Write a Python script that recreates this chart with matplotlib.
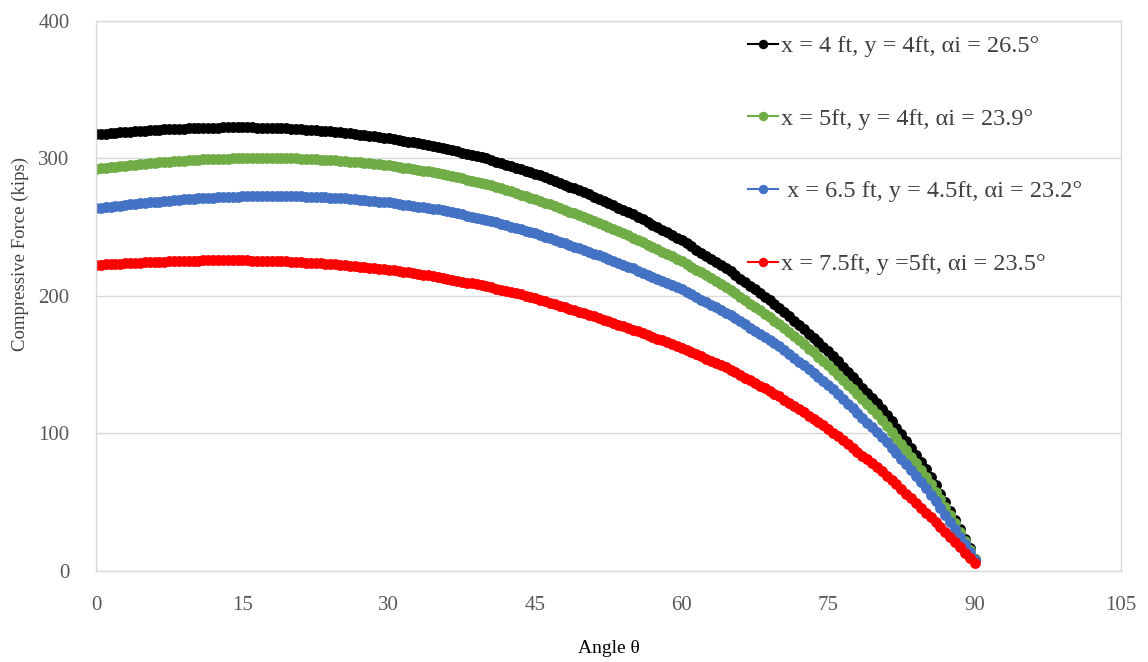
import numpy as np
import matplotlib
matplotlib.use("Agg")
import matplotlib.pyplot as plt

plt.rcParams['font.family'] = ['Liberation Serif', 'DejaVu Serif']

# angle theta, 0 to 90 deg in 0.5 deg steps
theta = np.arange(0, 90.5, 0.5)

# compressive force (kips), one row per 5 degrees
f_black = [
    317.5, 317.8, 318.1, 318.3, 318.6, 318.9, 319.2, 319.5, 319.7, 320.0,
    320.3, 320.5, 320.7, 320.9, 321.1, 321.3, 321.4, 321.6, 321.8, 322.0,
    322.2, 322.3, 322.3, 322.4, 322.4, 322.5, 322.6, 322.6, 322.7, 322.7,
    322.8, 322.7, 322.6, 322.5, 322.4, 322.3, 322.2, 322.1, 322.0, 321.9,
    321.8, 321.5, 321.3, 321.0, 320.8, 320.5, 320.2, 320.0, 319.7, 319.5,
    319.2, 318.8, 318.3, 317.9, 317.4, 317.0, 316.6, 316.1, 315.7, 315.2,
    314.8, 314.2, 313.5, 312.9, 312.3, 311.7, 311.0, 310.4, 309.8, 309.1,
    308.5, 307.7, 306.8, 306.0, 305.1, 304.3, 303.4, 302.6, 301.7, 300.9,
    300.0, 298.9, 297.8, 296.7, 295.6, 294.5, 293.4, 292.3, 291.2, 290.1,
    289.0, 287.7, 286.3, 285.0, 283.6, 282.3, 280.9, 279.6, 278.2, 276.9,
    275.5, 273.9, 272.3, 270.7, 269.1, 267.5, 265.9, 264.3, 262.7, 261.1,
    259.5, 257.6, 255.7, 253.8, 251.9, 250.0, 248.1, 246.2, 244.3, 242.4,
    240.5, 238.3, 236.0, 233.8, 231.5, 229.3, 227.0, 224.8, 222.5, 220.3,
    218.0, 215.4, 212.7, 210.1, 207.4, 204.8, 202.1, 199.5, 196.8, 194.2,
    191.5, 188.4, 185.2, 182.1, 178.9, 175.8, 172.6, 169.5, 166.3, 163.2,
    160.0, 156.2, 152.4, 148.6, 144.8, 141.0, 137.2, 133.4, 129.6, 125.8,
    122.0, 117.7, 113.3, 108.8, 104.2, 99.5, 94.7, 89.7, 84.6, 79.4,
    74.0, 68.2, 62.3, 56.2, 50.0, 43.6, 37.1, 30.4, 23.5, 16.4,
    9.0,
]

f_green = [
    292.5, 292.9, 293.3, 293.6, 294.0, 294.4, 294.8, 295.2, 295.5, 295.9,
    296.3, 296.6, 296.8, 297.1, 297.4, 297.7, 297.9, 298.2, 298.5, 298.7,
    299.0, 299.1, 299.3, 299.4, 299.5, 299.7, 299.8, 299.9, 300.0, 300.2,
    300.3, 300.4, 300.4, 300.5, 300.5, 300.5, 300.5, 300.5, 300.4, 300.4,
    300.3, 300.1, 299.9, 299.8, 299.6, 299.4, 299.2, 299.0, 298.9, 298.7,
    298.5, 298.2, 297.8, 297.5, 297.1, 296.8, 296.4, 296.1, 295.7, 295.4,
    295.0, 294.5, 293.9, 293.4, 292.8, 292.3, 291.7, 291.2, 290.6, 290.1,
    289.5, 288.7, 287.9, 287.1, 286.3, 285.5, 284.7, 283.9, 283.1, 282.3,
    281.5, 280.4, 279.3, 278.2, 277.1, 276.0, 274.9, 273.8, 272.7, 271.6,
    270.5, 269.2, 267.9, 266.6, 265.3, 264.0, 262.7, 261.4, 260.1, 258.8,
    257.5, 256.0, 254.5, 253.0, 251.5, 250.0, 248.5, 247.0, 245.5, 244.0,
    242.5, 240.8, 239.1, 237.4, 235.7, 234.0, 232.3, 230.6, 228.9, 227.2,
    225.5, 223.4, 221.3, 219.2, 217.1, 215.0, 212.9, 210.8, 208.7, 206.6,
    204.5, 202.0, 199.5, 197.0, 194.5, 192.0, 189.5, 187.0, 184.5, 182.0,
    179.5, 176.6, 173.6, 170.7, 167.7, 164.8, 161.8, 158.9, 155.9, 153.0,
    150.0, 146.4, 142.8, 139.2, 135.6, 132.0, 128.4, 124.8, 121.2, 117.6,
    114.0, 109.9, 105.7, 101.4, 97.0, 92.5, 87.9, 83.2, 78.4, 73.5,
    68.5, 63.2, 57.8, 52.2, 46.5, 40.6, 34.6, 28.4, 22.1, 15.6,
    9.0,
]

f_blue = [
    263.8, 264.2, 264.6, 265.0, 265.4, 265.8, 266.2, 266.6, 267.0, 267.4,
    267.8, 268.1, 268.4, 268.7, 269.0, 269.3, 269.6, 269.9, 270.2, 270.5,
    270.8, 271.0, 271.1, 271.3, 271.5, 271.7, 271.8, 272.0, 272.2, 272.3,
    272.5, 272.6, 272.7, 272.8, 272.8, 272.9, 272.9, 272.9, 272.9, 272.8,
    272.8, 272.6, 272.5, 272.3, 272.2, 272.0, 271.8, 271.7, 271.5, 271.4,
    271.2, 270.9, 270.6, 270.2, 269.9, 269.6, 269.3, 269.0, 268.6, 268.3,
    268.0, 267.5, 267.0, 266.5, 266.0, 265.5, 265.0, 264.5, 264.0, 263.5,
    263.0, 262.3, 261.5, 260.8, 260.0, 259.3, 258.5, 257.8, 257.0, 256.3,
    255.5, 254.5, 253.5, 252.5, 251.5, 250.5, 249.5, 248.5, 247.5, 246.5,
    245.5, 244.3, 243.1, 241.9, 240.7, 239.5, 238.3, 237.1, 235.9, 234.7,
    233.5, 232.2, 230.8, 229.5, 228.1, 226.8, 225.4, 224.1, 222.7, 221.4,
    220.0, 218.5, 217.0, 215.5, 214.0, 212.5, 211.0, 209.5, 208.0, 206.5,
    205.0, 203.1, 201.2, 199.3, 197.4, 195.5, 193.6, 191.7, 189.8, 187.9,
    186.0, 183.8, 181.5, 179.3, 177.0, 174.8, 172.5, 170.3, 168.0, 165.8,
    163.5, 160.7, 157.9, 155.1, 152.3, 149.5, 146.7, 143.9, 141.1, 138.3,
    135.5, 132.1, 128.6, 125.2, 121.7, 118.3, 114.8, 111.4, 107.9, 104.5,
    101.0, 97.3, 93.5, 89.6, 85.6, 81.6, 77.5, 73.3, 69.0, 64.6,
    60.0, 55.4, 50.6, 45.7, 40.7, 35.6, 30.3, 24.9, 19.4, 13.8,
    8.0,
]

f_red = [
    222.5, 222.7, 222.9, 223.1, 223.3, 223.5, 223.7, 223.9, 224.1, 224.3,
    224.5, 224.6, 224.8, 224.9, 225.0, 225.2, 225.3, 225.4, 225.5, 225.7,
    225.8, 225.8, 225.9, 225.9, 225.9, 226.0, 226.0, 226.0, 226.0, 226.0,
    226.0, 225.9, 225.8, 225.7, 225.6, 225.5, 225.4, 225.3, 225.2, 225.1,
    225.0, 224.8, 224.6, 224.3, 224.1, 223.9, 223.7, 223.5, 223.2, 223.0,
    222.8, 222.4, 222.1, 221.7, 221.4, 221.0, 220.6, 220.3, 219.9, 219.6,
    219.2, 218.7, 218.2, 217.6, 217.1, 216.6, 216.1, 215.6, 215.0, 214.5,
    214.0, 213.3, 212.6, 211.9, 211.2, 210.5, 209.8, 209.1, 208.4, 207.7,
    207.0, 206.2, 205.3, 204.5, 203.6, 202.8, 201.9, 201.1, 200.2, 199.4,
    198.5, 197.4, 196.3, 195.2, 194.1, 193.0, 191.9, 190.8, 189.7, 188.6,
    187.5, 186.3, 185.1, 183.9, 182.7, 181.5, 180.3, 179.1, 177.9, 176.7,
    175.5, 174.2, 172.9, 171.6, 170.3, 169.0, 167.7, 166.4, 165.1, 163.8,
    162.5, 160.9, 159.3, 157.7, 156.1, 154.5, 152.9, 151.3, 149.7, 148.1,
    146.5, 144.6, 142.6, 140.7, 138.7, 136.8, 134.8, 132.9, 130.9, 129.0,
    127.0, 124.7, 122.3, 120.0, 117.6, 115.3, 112.9, 110.6, 108.2, 105.9,
    103.5, 100.7, 97.9, 95.1, 92.3, 89.5, 86.7, 83.9, 81.1, 78.3,
    75.5, 72.4, 69.3, 66.1, 62.9, 59.6, 56.3, 52.9, 49.5, 46.0,
    42.5, 39.0, 35.5, 31.9, 28.3, 24.6, 20.9, 17.1, 13.3, 9.4,
    5.5,
]

labels = [
    "x = 4 ft, y = 4ft, \u03b1i = 26.5\u00b0",
    "x = 5ft, y = 4ft, \u03b1i = 23.9\u00b0",
    " x = 6.5 ft, y = 4.5ft, \u03b1i = 23.2\u00b0",
    "x = 7.5ft, y =5ft, \u03b1i = 23.5\u00b0",
]
colors = ["#000000", "#70AD47", "#4472C4", "#FF0000"]
series = [f_black, f_green, f_blue, f_red]

fig = plt.figure(figsize=(11.48, 6.62), dpi=100)
ax = fig.add_axes([0.0836, 0.1375, 0.8929, 0.8308])

for ys, c, lab in zip(series, colors, labels):
    ax.plot(theta, ys, color=c, lw=1.5, marker="o", ms=6.8,
            markeredgecolor=c, label=lab)

ax.set_xlim(0, 105)
ax.set_ylim(0, 400)
ax.set_xticks(np.arange(0, 106, 15))
ax.set_yticks(np.arange(0, 401, 100))
ax.grid(axis="y", color="#D9D9D9", lw=1)
ax.set_axisbelow(True)
for s in ax.spines.values():
    s.set_color("#D9D9D9")
    s.set_linewidth(1)
ax.tick_params(length=0, colors="#595959", labelsize=15)
ax.tick_params(axis="x", pad=18)
ax.tick_params(axis="y", pad=19)

ax.set_xlabel("Angle \u03b8", fontsize=14, color="black", va="center")
ax.xaxis.set_label_coords(0.5, -0.141)
ax.set_ylabel("Compressive Force (kips)", fontsize=13.5, color="#404040",
              va="center")
ax.yaxis.set_label_coords(-0.074, 0.576)

leg = ax.legend(loc="upper left", bbox_to_anchor=(0.636, 0.974),
                frameon=False, fontsize=17.5, handlelength=1.25,
                handletextpad=0.1, labelspacing=2.08, borderpad=0,
                borderaxespad=0, markerscale=0.85)
for t in leg.get_texts():
    t.set_color("#404040")

fig.savefig("out.png", dpi=100)
